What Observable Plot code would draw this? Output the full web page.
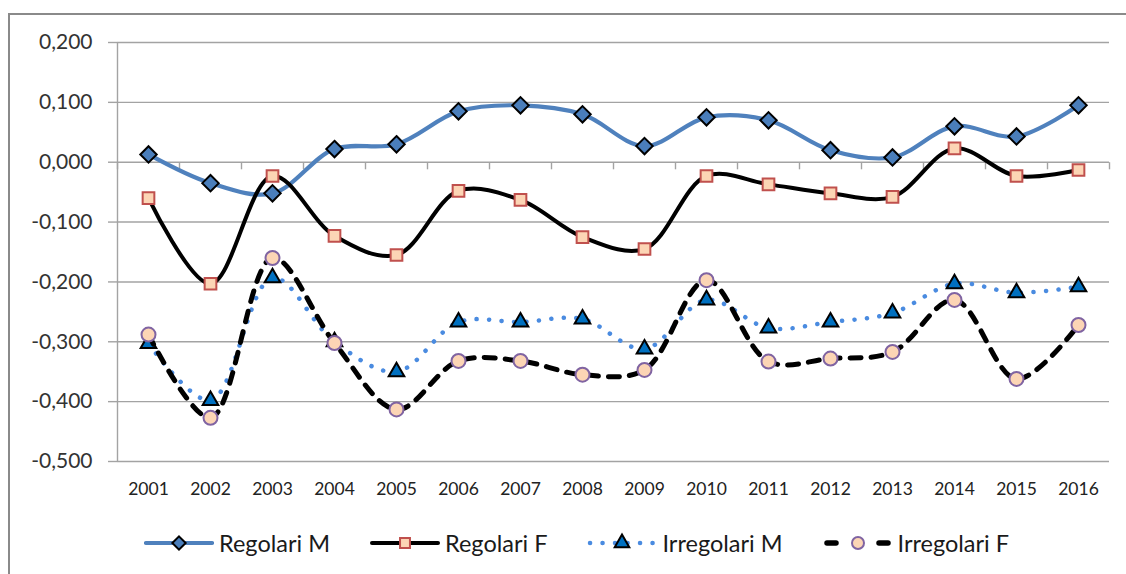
<!DOCTYPE html>
<html>
<head>
<meta charset="utf-8">
<script src="https://cdn.jsdelivr.net/npm/d3@7"></script>
<script src="https://cdn.jsdelivr.net/npm/@observablehq/plot@0.6"></script>
<style>
  body { margin: 0; background: #fff; font-family: Lato, "Open Sans", sans-serif; }
  #wrap { position: relative; width: 1126px; height: 574px; overflow: hidden; background: #fff; }
  #frame { position: absolute; left: 8px; top: 13px; right: -10px; bottom: -10px;
           border-left: 2px solid #8a8a8a; border-top: 2px solid #8a8a8a; }
  #chart { position: absolute; left: 0; top: 0; }
  #legend { position: absolute; left: 0; top: 528px; width: 1126px; height: 30px;
            display: flex; justify-content: flex-start; align-items: center; gap: 40px; padding-left: 144px; box-sizing: border-box; }
  .item { display: flex; align-items: center; font-size: 23.5px; color: #1a1a1a; }
  .item svg { margin-right: 5px; }
</style>
</head>
<body>
<div id="wrap">
  <div id="frame"></div>
  <div id="chart"></div>
  <div id="legend"></div>
</div>
<script>
// ---- data ----
const years = [2001, 2002, 2003, 2004, 2005, 2006, 2007, 2008, 2009, 2010, 2011, 2012, 2013, 2014, 2015, 2016];
const seriesNames = ["Regolari M", "Regolari F", "Irregolari M", "Irregolari F"];
const regolariM   = [0.013, -0.035, -0.052, 0.022, 0.030, 0.085, 0.095, 0.080, 0.027, 0.075, 0.070, 0.020, 0.008, 0.060, 0.043, 0.095];
const regolariF   = [-0.060, -0.203, -0.023, -0.123, -0.155, -0.048, -0.063, -0.125, -0.145, -0.023, -0.037, -0.052, -0.058, 0.023, -0.023, -0.013];
const irregolariM = [-0.303, -0.398, -0.193, -0.300, -0.350, -0.267, -0.267, -0.262, -0.312, -0.230, -0.277, -0.267, -0.252, -0.203, -0.218, -0.208];
const irregolariF = [-0.288, -0.427, -0.160, -0.302, -0.413, -0.332, -0.332, -0.355, -0.347, -0.197, -0.333, -0.328, -0.317, -0.230, -0.362, -0.272];
const yTicks = [-0.5, -0.4, -0.3, -0.2, -0.1, 0, 0.1, 0.2];

// ---- styles ----
const styles = [
  {stroke: "#4f81bd", strokeWidth: 4.2, dash: null, legendDash: null, cap: "round", symbol: "diamond2", r: 7.4, lr: 6, fill: "#4a7ebb", mstroke: "#000", msw: 2},
  {stroke: "#000", strokeWidth: 4, dash: null, legendDash: null, cap: "round", symbol: "square", r: 6.6, lr: 5.6, fill: "#fcd5b5", mstroke: "#c0504d", msw: 2},
  {stroke: "#4a8be0", strokeWidth: 4.5, dash: "0.1 12.4", legendDash: "0.1 12.4", cap: "round", symbol: "triangle", r: 5.8, lr: 5.4, fill: "#0070c0", mstroke: "#000", msw: 2},
  {stroke: "#000", strokeWidth: 5, dash: "11 10", legendDash: "7 30", cap: "round", symbol: "circle", r: 7, lr: 6, fill: "#fcd5b5", mstroke: "#8064a2", msw: 2}
];
const values = [regolariM, regolariF, irregolariM, irregolariF];
const rows = seriesNames.map((name, s) => years.map((year, i) => ({series: name, year, value: values[s][i]})));

const fmt = d3.formatLocale({decimal: ",", thousands: ".", grouping: [3], currency: ["", "€"], minus: "-"}).format(".3f");
const boundaries = years.map(y => y - 0.5).concat([years[years.length - 1] + 0.5]);
const tickSymbol = {draw(ctx, size) { const l = Math.sqrt(size); ctx.moveTo(0, 0); ctx.lineTo(0, l); }};
const gridColor = "#a3a3a3";

const seriesMarks = rows.flatMap((data, s) => {
  const st = styles[s];
  return [
    Plot.line(data, {x: "year", y: "value", curve: "catmull-rom", stroke: st.stroke, strokeWidth: st.strokeWidth,
      strokeDasharray: st.dash ?? undefined, strokeLinecap: st.cap, strokeLinejoin: "round"}),
    Plot.dot(data, {x: "year", y: "value", symbol: st.symbol, r: st.r, fill: st.fill, stroke: st.mstroke, strokeWidth: st.msw})
  ];
});

const chart = Plot.plot({
  width: 1126,
  height: 510,
  marginLeft: 117,
  marginRight: 17,
  marginTop: 42,
  marginBottom: 49,
  style: {fontFamily: "Lato, 'Open Sans', sans-serif", background: "transparent", overflow: "visible"},
  x: {type: "linear", domain: [years[0] - 0.5, years[years.length - 1] + 0.5]},
  y: {domain: [yTicks[0], yTicks[yTicks.length - 1]]},
  marks: [
    Plot.gridY(yTicks, {stroke: gridColor, strokeOpacity: 1, strokeWidth: 1.4}),
    Plot.axisY(yTicks, {tickSize: 9, tickPadding: 16, tickFormat: fmt, fontSize: 21, stroke: gridColor, strokeWidth: 1.4, fill: "#333", label: null}),
    Plot.axisX(years, {tickSize: 0, tickPadding: 21, tickFormat: d => String(d), fontSize: 17.5, fill: "#222", label: null}),
    Plot.ruleX([boundaries[0]], {stroke: gridColor, strokeWidth: 1.4}),
    Plot.dot(boundaries, {x: d => d, y: () => 0, symbol: tickSymbol, r: 4, fill: "none", stroke: gridColor, strokeWidth: 1.4}),
    ...seriesMarks
  ]
});
document.getElementById("chart").appendChild(chart);

// ---- legend ----
const legend = d3.select("#legend");
const symbols = {diamond2: d3.symbolDiamond2, square: d3.symbolSquare, triangle: d3.symbolTriangle, circle: d3.symbolCircle};
seriesNames.forEach((name, s) => {
  const st = styles[s];
  const item = legend.append("div").attr("class", "item");
  const svg = item.append("svg").attr("width", 70).attr("height", 24);
  if (s === 3) {
    [[4, 12], [22, 28], [44, 49], [58, 64]].forEach(([a, b]) => {
      if (a === 22 || a === 44) return;
    });
    [[4, 13], [56, 65]].forEach(([a, b]) =>
      svg.append("line").attr("x1", a).attr("x2", b).attr("y1", 12).attr("y2", 12)
        .attr("stroke", st.stroke).attr("stroke-width", 5.5).attr("stroke-linecap", "round"));
  } else {
    svg.append("line").attr("x1", s === 2 ? 3 : 2).attr("x2", 68).attr("y1", 12).attr("y2", 12)
      .attr("stroke", st.stroke).attr("stroke-width", st.strokeWidth)
      .attr("stroke-dasharray", st.legendDash).attr("stroke-linecap", st.cap);
  }
  svg.append("path").attr("transform", "translate(35,12)")
    .attr("d", d3.symbol(symbols[st.symbol], st.lr * st.lr * Math.PI)())
    .attr("fill", st.fill).attr("stroke", st.mstroke).attr("stroke-width", st.msw);
  item.append("span").text(name);
});
</script>
</body>
</html>
